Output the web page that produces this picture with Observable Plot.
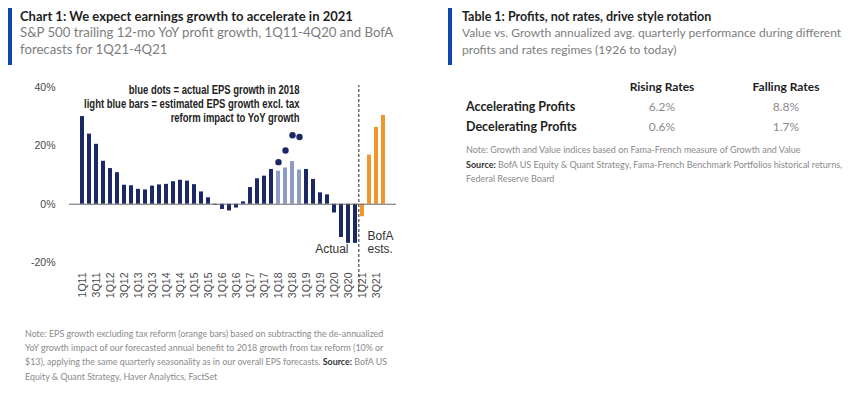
<!DOCTYPE html>
<html><head><meta charset="utf-8">
<script src="https://cdn.jsdelivr.net/npm/d3@7"></script>
<script src="https://cdn.jsdelivr.net/npm/@observablehq/plot@0.6"></script>
<style>
body{margin:0;width:854px;height:397px;background:#fff;position:relative;overflow:hidden;font-family:Lato,sans-serif}
.abs{position:absolute;white-space:nowrap}
.accent{position:absolute;width:4px;background:#1046b0}
.title{font-weight:700;color:#1e1e1e;font-size:12.5px;line-height:13px}
.sub{color:#7d7d7d;font-size:12.5px;line-height:13px}
.note{color:#8a8a8a;font-size:9px;line-height:14.2px}
.note b{color:#333}
#tbl{position:absolute;left:462px;top:77px;border-collapse:collapse;font-size:12px}
#tbl td,#tbl th{padding:0;height:19.7px;white-space:nowrap}
#tbl th{font-weight:700;color:#1e1e1e}
#tbl td.v{color:#8a8a8a;text-align:center}
#tbl td.r{font-weight:700;color:#1e1e1e;padding-left:4px;font-size:12.5px}
</style></head><body>
<script>
// ---- data ----
const quarters = ["1Q11","2Q11","3Q11","4Q11","1Q12","2Q12","3Q12","4Q12","1Q13","2Q13","3Q13","4Q13",
  "1Q14","2Q14","3Q14","4Q14","1Q15","2Q15","3Q15","4Q15","1Q16","2Q16","3Q16","4Q16",
  "1Q17","2Q17","3Q17","4Q17","1Q18","2Q18","3Q18","4Q18","1Q19","2Q19","3Q19","4Q19",
  "1Q20","2Q20","3Q20","4Q20","1Q21","2Q21","3Q21","4Q21"];
const growth = [30.0,24.0,20.5,14.7,12.2,10.8,6.5,6.3,5.1,4.9,6.2,6.6,
  6.8,7.7,8.2,7.9,6.7,4.2,2.2,-0.3,-1.8,-2.3,-1.3,0.8,
  5.7,8.7,9.6,11.9,11.3,12.4,14.6,11.7,11.9,8.5,3.9,3.2,
  -3.0,-11.4,-13.4,-13.4,-4.3,16.8,26.3,30.4];
const dotQuarters = ["1Q18","2Q18","3Q18","4Q18"];
const dotGrowth = [14.4,18.4,23.6,23.0];
const yTicks = [-20,0,20,40];
const xTickLabels = quarters.filter((d,i)=>i%2===0);
const seriesNames = ["actual","excl. tax reform","BofA forecast"];
const legendNote = "blue dots = actual EPS growth in 2018\nlight blue bars = estimated EPS growth excl. tax\nreform impact to YoY growth";
const actualLabel = "Actual";
const forecastLabel = "BofA\nests.";
const tableCols = ["Rising Rates","Falling Rates"];
const tableRows = ["Accelerating Profits","Decelerating Profits"];
const tableValues = [["6.2%","8.8%"],["0.6%","1.7%"]];

const bars = quarters.map((q,i)=>({q, v: growth[i],
  kind: q.endsWith("18") ? seriesNames[1] : q.endsWith("21") ? seriesNames[2] : seriesNames[0]}));
const dots = dotQuarters.map((q,i)=>({q, v: dotGrowth[i]}));
</script>

<div class="accent" style="left:8px;top:8px;height:57px"></div>
<div class="abs title" style="left:20px;top:9.5px;font-size:13px">Chart 1: We expect earnings growth to accelerate in 2021</div>
<div class="abs sub" style="left:20px;top:25.5px;font-size:13.2px">S&amp;P 500 trailing 12-mo YoY profit growth, 1Q11-4Q20 and BofA</div>
<div class="abs sub" style="left:20px;top:43px;font-size:13.2px">forecasts for 1Q21-4Q21</div>
<div id="chart" class="abs" style="left:0;top:70px"></div>
<div class="abs note" style="left:25px;top:327px;font-size:8.9px">Note: EPS growth excluding tax reform (orange bars) based on subtracting the de-annualized<br>YoY growth impact of our forecasted annual benefit to 2018 growth from tax reform (10% or<br>$13), applying the same quarterly seasonality as in our overall EPS forecasts. <b>Source:</b> BofA US<br>Equity &amp; Quant Strategy, Haver Analytics, FactSet</div>

<div class="accent" style="left:448px;top:8px;height:57px"></div>
<div class="abs title" style="left:462px;top:9.5px">Table 1: Profits, not rates, drive style rotation</div>
<div class="abs sub" style="left:462px;top:25.5px;font-size:12.05px">Value vs. Growth annualized avg. quarterly performance during different</div>
<div class="abs sub" style="left:462px;top:43px;font-size:12.05px">profits and rates regimes (1926 to today)</div>
<table id="tbl"></table>
<div class="abs note" style="left:466px;top:143px;line-height:14.5px">Note: Growth and Value indices based on Fama-French measure of Growth and Value<br><b>Source:</b> BofA US Equity &amp; Quant Strategy, Fama-French Benchmark Portfolios historical returns,<br>Federal Reserve Board</div>

<script>
const navy = "#1c2766";
const plot = Plot.plot({
  width: 420, height: 232,
  marginLeft: 69, marginRight: 24, marginTop: 11, marginBottom: 34,
  style: {fontFamily: "'Liberation Sans', Arial, sans-serif", fontSize: "10.5px", color: "#4a4a4a", background: "transparent", overflow: "visible"},
  x: {type: "band", domain: quarters, padding: 0.45, label: null, tickSize: 0, tickRotate: -90, tickPadding: 4, ticks: xTickLabels},
  y: {domain: [-22, 42], ticks: yTicks, tickFormat: d => d + "%", tickSize: 0, tickPadding: 14, label: null},
  color: {domain: seriesNames, range: [navy, "#8d9cc3", "#f0972c"]},
  marks: [
    Plot.barY(bars, {x: "q", y: "v", fill: "kind"}),
    Plot.ruleY([0], {stroke: "#666", strokeWidth: 1}),
    Plot.dot(dots, {x: "q", y: "v", r: 3.2, fill: navy, stroke: "none"}),
    Plot.ruleX(["1Q21"], {x: d => d, y1: -30.2, y2: 40.6, dx: -3.7, stroke: "#555", strokeWidth: 1.3, strokeDasharray: "3,2"}),
    Plot.text([{q: "4Q18", v: 34.4, t: legendNote}],
      {x: "q", y: "v", text: "t", textAnchor: "end", lineHeight: 1.15, fontSize: 12, fontWeight: 700,
       fontFamily: "'Liberation Sans', Arial, sans-serif", fill: "#222"}),
    Plot.text([{q: "3Q20", v: -15.3, t: actualLabel}], {x: "q", y: "v", text: "t", textAnchor: "end", fontSize: 12, fill: "#333"}),
    Plot.text([{q: "2Q21", v: -13.1, t: forecastLabel}], {x: "q", y: "v", text: "t", textAnchor: "start", dx: -2, lineHeight: 1.05, fontSize: 12, fill: "#333"})
  ]
});
document.getElementById("chart").appendChild(plot);
// emulate a narrow face for the in-chart legend note
plot.querySelectorAll("text").forEach(t => {
  if (t.textContent.startsWith("blue dots")) {
    t.setAttribute("transform", (t.getAttribute("transform") || "") + " scale(0.79,1)");
  }
});

// table
const tbl = document.getElementById("tbl");
const head = document.createElement("tr");
head.innerHTML = `<th style="width:138px"></th>` + tableCols.map(c => `<th style="width:124px">${c}</th>`).join("");
tbl.appendChild(head);
tableRows.forEach((r, i) => {
  const tr = document.createElement("tr");
  tr.innerHTML = `<td class="r">${r}</td>` + tableValues[i].map(v => `<td class="v">${v}</td>`).join("");
  tbl.appendChild(tr);
});
</script>
</body></html>
